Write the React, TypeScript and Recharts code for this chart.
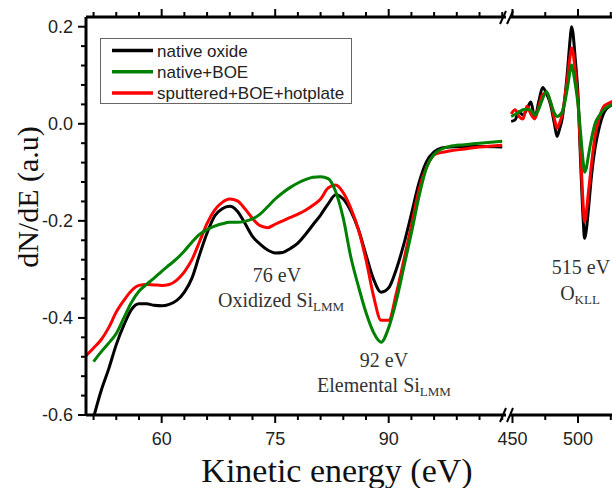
import React from "react";
import { LineChart, Line, XAxis, YAxis, Legend } from "recharts";

// Si LMM region (eV) and Auger derivative signal
const lowEnergy = [
  50, 51, 52, 53, 54, 55, 56, 57, 58, 59, 60, 61, 62, 63, 64, 65, 66, 67, 68, 69, 70,
  71, 72, 73, 74, 75, 76, 77, 78, 79, 80, 81, 82, 83, 84, 85, 86, 87, 88, 89, 90, 91,
  92, 93, 94, 95, 96, 97, 98, 100, 102, 105,
];
const lowNative = [
  null, -0.605, -0.55, -0.505, -0.455, -0.415, -0.383, -0.371, -0.371, -0.374, -0.375,
  -0.372, -0.364, -0.347, -0.318, -0.27, -0.225, -0.19, -0.175, -0.17, -0.18, -0.205,
  -0.232, -0.248, -0.26, -0.266, -0.265, -0.257, -0.246, -0.228, -0.208, -0.188, -0.165,
  -0.146, -0.155, -0.18, -0.218, -0.27, -0.32, -0.347, -0.338, -0.3, -0.248, -0.186,
  -0.122, -0.078, -0.058, -0.05, -0.048, -0.047, -0.047, -0.048,
];
const lowBoe = [
  null, -0.49, -0.47, -0.452, -0.432, -0.4, -0.368, -0.345, -0.331, -0.318, -0.304,
  -0.291, -0.278, -0.262, -0.244, -0.228, -0.218, -0.211, -0.206, -0.203, -0.203, -0.201,
  -0.196, -0.186, -0.171, -0.155, -0.142, -0.131, -0.122, -0.115, -0.11, -0.109, -0.113,
  -0.14, -0.195, -0.275, -0.335, -0.389, -0.43, -0.45, -0.42, -0.365, -0.295, -0.225,
  -0.15, -0.09, -0.063, -0.052, -0.047, -0.043, -0.04, -0.036,
];
const lowSputtered = [
  -0.478, -0.462, -0.445, -0.42, -0.388, -0.364, -0.344, -0.333, -0.331, -0.332, -0.333,
  -0.331, -0.322, -0.305, -0.28, -0.243, -0.205, -0.178, -0.162, -0.155, -0.159, -0.175,
  -0.195, -0.21, -0.214, -0.207, -0.2, -0.193, -0.186, -0.178, -0.168, -0.155, -0.132,
  -0.126, -0.142, -0.174, -0.218, -0.28, -0.355, -0.405, -0.405, -0.35, -0.281, -0.21,
  -0.136, -0.09, -0.064, -0.059, -0.056, -0.052, -0.048, -0.044,
];

// O KLL region
const highEnergy = [
  449, 452, 455, 458, 461, 464, 467, 470, 473, 476, 479, 482, 484, 486, 488, 490, 492,
  494, 495, 496, 498, 500, 502, 504, 505, 506, 508, 510, 513, 516, 520, 524, 528,
];
const highNative = [
  0.005, 0.008, 0.025, 0.018, 0.03, 0.045, 0.012, 0.045, 0.075, 0.062, 0.04, 0.0, -0.026,
  -0.01, 0.012, 0.055, 0.11, 0.175, 0.2, 0.19, 0.13, 0.06, -0.08, -0.2, -0.236, -0.225,
  -0.175, -0.115, -0.05, -0.01, 0.024, 0.036, 0.042,
];
const highBoe = [
  0.015, 0.019, 0.024, 0.029, 0.03, 0.028, 0.018, 0.03, 0.052, 0.066, 0.045, 0.022, 0.015,
  0.018, 0.025, 0.045, 0.075, 0.11, 0.121, 0.112, 0.08, 0.04, -0.02, -0.08, -0.1, -0.095,
  -0.065, -0.035, 0.0, 0.016, 0.03, 0.037, 0.042,
];
const highSputtered = [
  0.02, 0.029, 0.015, 0.01, 0.036, 0.02, 0.01, 0.035, 0.06, 0.064, 0.045, 0.01, -0.009,
  0.002, 0.02, 0.055, 0.095, 0.14, 0.156, 0.15, 0.105, 0.045, -0.06, -0.17, -0.202, -0.19,
  -0.14, -0.09, -0.025, 0.01, 0.037, 0.043, 0.048,
];

const yMajor = [-0.6, -0.4, -0.2, 0, 0.2];
const yMinor = [
  -0.56, -0.52, -0.48, -0.44, -0.36, -0.32, -0.28, -0.24, -0.16, -0.12, -0.08, -0.04,
  0.04, 0.08, 0.12, 0.16,
];
const lowMajor = [60, 75, 90];
const lowMinor = [51, 54, 57, 63, 66, 69, 72, 78, 81, 84, 87, 93, 96, 99, 102, 105];
const highMajor = [450, 500];
const highMinor = [475, 525];

const series = [
  { key: "native", name: "native oxide", color: "#000000" },
  { key: "sputtered", name: "sputtered+BOE+hotplate", color: "#ff0000" },
  { key: "boe", name: "native+BOE", color: "#008000" },
];
const legendOrder = ["native", "boe", "sputtered"];

const lowData = lowEnergy.map((e, i) => ({
  e,
  native: lowNative[i],
  boe: lowBoe[i],
  sputtered: lowSputtered[i],
}));
const highData = highEnergy.map((e, i) => ({
  e,
  native: highNative[i],
  boe: highBoe[i],
  sputtered: highSputtered[i],
}));

const SANS = "'Liberation Sans', Arial, sans-serif";
const SERIF = "'Liberation Serif', 'Times New Roman', serif";

const isIn = (arr: number[], v: number) => arr.some((m) => Math.abs(m - v) < 1e-6);

function makeTick(side: "left" | "top" | "bottom", major: number[], label: boolean) {
  return (props: any) => {
    const { x, y, payload } = props;
    const v = payload.value;
    const big = isIn(major, v);
    const len = big ? 8 : 5;
    if (side === "left") {
      return (
        <g>
          <line x1={x} x2={x - len} y1={y} y2={y} stroke="#000" strokeWidth={2} />
          {big && label && (
            <text x={x - 13} y={y} dy="0.36em" textAnchor="end" fontSize={18} fontFamily={SANS} fill="#222">
              {v.toFixed(1)}
            </text>
          )}
        </g>
      );
    }
    const dir = side === "top" ? -1 : 1;
    return (
      <g>
        <line x1={x} x2={x} y1={y} y2={y + dir * len} stroke="#000" strokeWidth={2} />
        {big && label && (
          <text x={x} y={y + 30} textAnchor="middle" fontSize={18} fontFamily={SANS} fill="#222">
            {v}
          </text>
        )}
      </g>
    );
  };
}

function LegendBox() {
  const byKey = Object.fromEntries(series.map((s) => [s.key, s]));
  return (
    <svg width={253} height={67} style={{ display: "block" }}>
      <rect x={0.5} y={0.5} width={251} height={65} fill="#fff" stroke="#666" strokeWidth={1} />
      {legendOrder.map((k, i) => (
        <g key={k}>
          <line x1={12} x2={53} y1={12.5 + i * 21.3} y2={12.5 + i * 21.3} stroke={byKey[k].color} strokeWidth={3.5} />
          <text x={57} y={18.5 + i * 21.3} fontSize={17} fontFamily={SANS} fill="#222">
            {byKey[k].name}
          </text>
        </g>
      ))}
    </svg>
  );
}

function Lines() {
  return series.map((s) => (
    <Line
      key={s.key}
      dataKey={s.key}
      name={s.name}
      type="monotone"
      stroke={s.color}
      strokeWidth={3}
      dot={false}
      isAnimationActive={false}
    />
  ));
}

export default function App() {
  const yTicks = [...yMajor, ...yMinor];
  const lowTicks = [...lowMajor, ...lowMinor];
  const highTicks = [...highMajor, ...highMinor];
  return (
    <div style={{ position: "absolute", left: 0, top: 0, width: 612, height: 488, overflow: "hidden", background: "#fff" }}>
      <div style={{ position: "absolute", left: 0, top: 0 }}>
        <LineChart width={510} height={488} data={lowData} margin={{ top: 16, right: 4, bottom: 0, left: 0 }}>
          <XAxis
            dataKey="e"
            type="number"
            domain={[50, 105.5]}
            allowDataOverflow
            ticks={lowTicks}
            interval={0}
            height={73}
            tickSize={0}
            tickMargin={0}
            tickLine={false}
            axisLine={{ stroke: "#000", strokeWidth: 3 }}
            tick={makeTick("bottom", lowMajor, true)}
          />
          <XAxis
            xAxisId="top"
            dataKey="e"
            type="number"
            orientation="top"
            domain={[50, 105.5]}
            allowDataOverflow
            ticks={lowTicks}
            interval={0}
            height={1}
            tickSize={0}
            tickMargin={0}
            tickLine={false}
            axisLine={{ stroke: "#000", strokeWidth: 3 }}
            tick={makeTick("top", lowMajor, false)}
          />
          <YAxis
            type="number"
            domain={[-0.6, 0.22]}
            allowDataOverflow
            ticks={yTicks}
            interval={0}
            width={86}
            tickSize={0}
            tickMargin={0}
            tickLine={false}
            axisLine={{ stroke: "#000", strokeWidth: 3 }}
            tick={makeTick("left", yMajor, true)}
          />
          <Legend
            layout="vertical"
            align="center"
            verticalAlign="middle"
            wrapperStyle={{ left: 100, top: 38, width: 253 }}
            content={() => <LegendBox />}
          />
          {Lines()}
        </LineChart>
      </div>
      <div style={{ position: "absolute", left: 470, top: 0 }}>
        <LineChart width={170} height={488} data={highData} margin={{ top: 16, right: 0, bottom: 0, left: 40 }}>
          <XAxis
            dataKey="e"
            type="number"
            domain={[448.1, 547.3]}
            allowDataOverflow
            ticks={highTicks}
            interval={0}
            height={73}
            tickSize={0}
            tickMargin={0}
            tickLine={false}
            axisLine={{ stroke: "#000", strokeWidth: 3 }}
            tick={makeTick("bottom", highMajor, true)}
          />
          <XAxis
            xAxisId="top"
            dataKey="e"
            type="number"
            orientation="top"
            domain={[448.1, 547.3]}
            allowDataOverflow
            ticks={highTicks}
            interval={0}
            height={1}
            tickSize={0}
            tickMargin={0}
            tickLine={false}
            axisLine={{ stroke: "#000", strokeWidth: 3 }}
            tick={makeTick("top", highMajor, false)}
          />
          <YAxis type="number" domain={[-0.6, 0.22]} allowDataOverflow hide width={0} />
          {Lines()}
        </LineChart>
      </div>
      <svg
        width={612}
        height={488}
        style={{ position: "absolute", left: 0, top: 0, pointerEvents: "none" }}
      >
        {/* axis break marks */}
        <g stroke="#000" strokeWidth={2}>
          <line x1={500} y1={24} x2={506} y2={11} />
          <line x1={507} y1={24} x2={513} y2={11} />
          <line x1={500} y1={422} x2={506} y2={408} />
          <line x1={507} y1={422} x2={513} y2={408} />
        </g>
        <text
          x={27}
          y={197}
          transform="rotate(-90 27 197)"
          textAnchor="middle"
          dominantBaseline="central"
          fontSize={30}
          fontFamily={SERIF}
          fill="#111"
        >
          dN/dE (a.u)
        </text>
        <text x={337} y={482} textAnchor="middle" fontSize={34} fontFamily={SERIF} fill="#111">
          Kinetic energy (eV)
        </text>
        <g fontFamily={SERIF} fill="#333" fontSize={20} textAnchor="middle">
          <text x={277} y={282}>76 eV</text>
          <text x={281} y={307}>
            Oxidized Si<tspan fontSize={13} dy={4}>LMM</tspan>
          </text>
          <text x={384} y={367}>92 eV</text>
          <text x={384} y={392}>
            Elemental Si<tspan fontSize={13} dy={4}>LMM</tspan>
          </text>
          <text x={581} y={274}>515 eV</text>
          <text x={580} y={300}>
            O<tspan fontSize={13} dy={4}>KLL</tspan>
          </text>
        </g>
      </svg>
    </div>
  );
}
